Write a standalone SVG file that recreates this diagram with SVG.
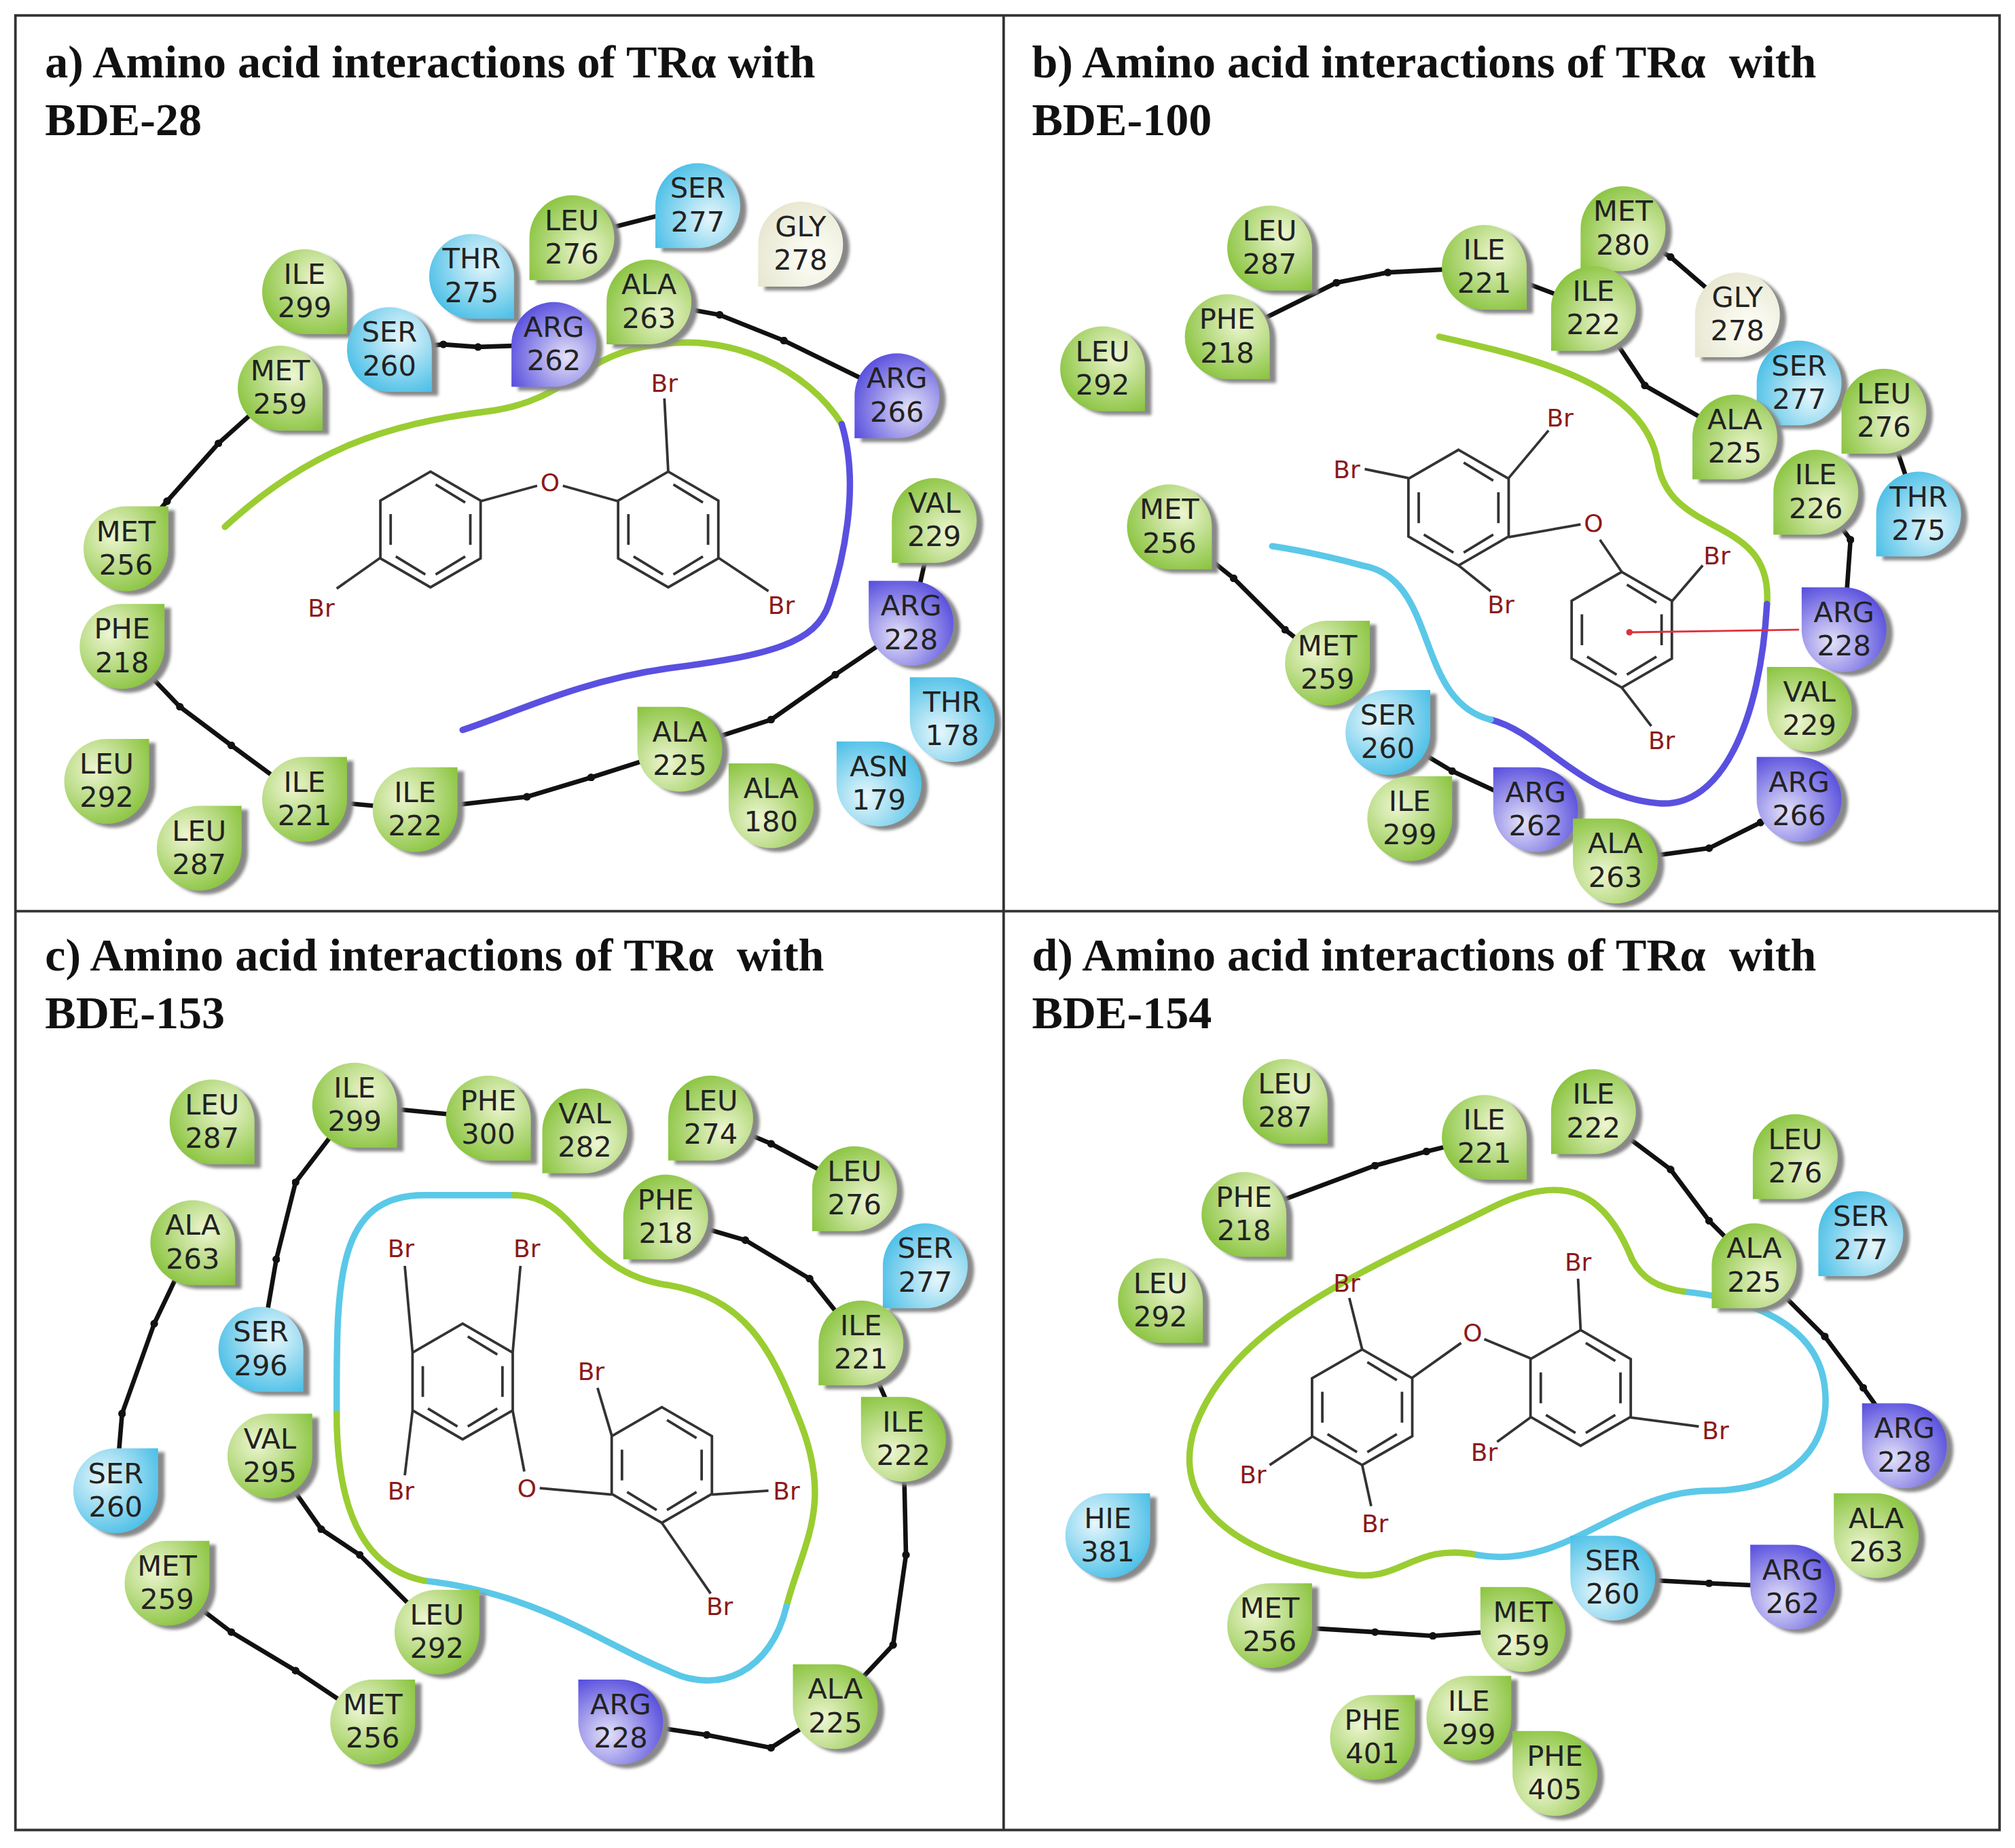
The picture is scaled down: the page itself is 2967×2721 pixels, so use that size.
<svg xmlns="http://www.w3.org/2000/svg" xmlns:xlink="http://www.w3.org/1999/xlink" width="2967" height="2721" viewBox="0 0 2967 2721">
<style>
.t{font-family:"Liberation Serif",serif;font-weight:bold;font-size:36px;fill:#111;white-space:pre}
.r text{font-family:"DejaVu Sans",sans-serif;font-size:22px;fill:#222;text-anchor:middle}
.g use{fill:url(#gG)}.b use{fill:url(#gB)}.p use{fill:url(#gP)}.w use{fill:url(#gW)}
.bb{fill:none;stroke:#111;stroke-width:3.5;marker-mid:url(#dot)}
.bd{fill:none;stroke:#333;stroke-width:2}
.at{font-family:"DejaVu Sans",sans-serif;font-size:19px;fill:#8b1a1a;text-anchor:middle}
.lg{fill:none;stroke:#9acd32;stroke-width:5;stroke-linecap:round}
.lb{fill:none;stroke:#5bc8e8;stroke-width:5;stroke-linecap:round}
.lp{fill:none;stroke:#5a50e0;stroke-width:5;stroke-linecap:round}
</style>
<defs>
<radialGradient id="gG" cx="35%" cy="35%" r="75%"><stop offset="0" stop-color="#eef6d2"/><stop offset="1" stop-color="#86c23a"/></radialGradient>
<radialGradient id="gB" cx="35%" cy="35%" r="75%"><stop offset="0" stop-color="#e8f7fc"/><stop offset="1" stop-color="#45bde6"/></radialGradient>
<radialGradient id="gP" cx="35%" cy="35%" r="75%"><stop offset="0" stop-color="#e4e2f8"/><stop offset="1" stop-color="#5248dc"/></radialGradient>
<radialGradient id="gW" cx="35%" cy="35%" r="75%"><stop offset="0" stop-color="#fefef8"/><stop offset="1" stop-color="#e6e6cf"/></radialGradient>
<filter id="sh" x="-30%" y="-30%" width="160%" height="160%"><feDropShadow dx="5" dy="3" stdDeviation="1" flood-color="#888"/></filter>
<path id="d" d="M0,-33 A33,33 0 1,0 33,0 L33,-33 Z"/>
<marker id="dot" viewBox="-3 -3 6 6" markerWidth="6" markerHeight="6" markerUnits="userSpaceOnUse"><circle r="3" fill="#111"/></marker>
<g id="ring" fill="none" stroke="#333" stroke-width="2"><polygon points="0,-45 39,-22.5 39,22.5 0,45 -39,22.5 -39,-22.5"/><path d="M4,-35 L27,-21 M31,-12 L31,12 M27,21 L4,35 M-4,35 L-27,21 M-31,12 L-31,-12"/></g>
</defs>
<rect width="2967" height="2721" fill="#fff"/>
<g transform="scale(1.8922)">
<g id="frame" fill="none" stroke="#333" stroke-width="2"><rect x="12" y="12" width="1544" height="1412"/><line x1="781" y1="12" x2="781" y2="1424"/><line x1="12" y1="709" x2="1556" y2="709"/></g>
<g id="titles"><text class="t" x="35" y="60">a) Amino acid interactions of TRα with</text><text class="t" x="35" y="105">BDE-28</text><text class="t" x="803" y="60">b) Amino acid interactions of TRα  with</text><text class="t" x="803" y="105">BDE-100</text><text class="t" x="35" y="755">c) Amino acid interactions of TRα  with</text><text class="t" x="35" y="800">BDE-153</text><text class="t" x="803" y="755">d) Amino acid interactions of TRα  with</text><text class="t" x="803" y="800">BDE-154</text></g>
<g id="ligand-curves">
<path class="lg" d="M175,410 C240,350 300,330 380,320 C440,312 450,280 500,270 C570,255 630,290 655,330"/>
<path class="lp" d="M655,330 C670,380 655,440 645,470 C635,500 600,510 520,520 C450,530 400,555 360,568"/>
<path class="lg" d="M1120,262 C1200,280 1280,300 1290,360 C1300,420 1380,400 1375,470"/>
<path class="lp" d="M1375,470 C1370,560 1340,630 1290,625 C1230,620 1200,570 1160,560"/>
<path class="lb" d="M1160,560 C1100,545 1120,450 1060,440 C1030,432 1010,428 990,425"/>
<path class="lb" d="M262,1100 C262,1000 260,930 330,930 L400,930"/>
<path class="lg" d="M400,930 C450,930 450,990 520,1000 C580,1010 600,1050 620,1100 C650,1170 625,1200 612,1250"/>
<path class="lb" d="M612,1250 C600,1300 560,1320 520,1300 C470,1280 420,1240 330,1230"/>
<path class="lg" d="M330,1230 C280,1220 262,1170 262,1100"/>
<path class="lg" d="M1270,980 C1250,930 1220,910 1160,940 C1060,990 960,1030 930,1110 C910,1170 960,1210 1050,1225 C1090,1232 1100,1200 1150,1210"/>
<path class="lb" d="M1150,1210 C1220,1222 1260,1160 1330,1160 C1400,1160 1425,1120 1420,1080 C1415,1030 1360,1010 1310,1005"/>
<path class="lg" d="M1310,1005 C1290,1002 1278,995 1270,980"/>
</g>
<g id="connectors">
<polyline class="bb" points="218,302 170,345 130,390 98,427"/>
<polyline class="bb" points="95,503 140,550 180,580 237,622"/>
<polyline class="bb" points="237,622 323,630"/>
<polyline class="bb" points="323,630 410,620 460,605 529,583 600,560 650,525 709,485"/>
<polyline class="bb" points="709,485 727,405"/>
<polyline class="bb" points="303,272 345,268 372,270 431,268"/>
<polyline class="bb" points="505,235 560,245 610,265 698,308"/>
<polyline class="bb" points="445,185 543,160"/>
<polyline class="bb" points="955,262 1040,220 1080,212 1155,208"/>
<polyline class="bb" points="1155,208 1240,240"/>
<polyline class="bb" points="1263,178 1300,200 1352,245"/>
<polyline class="bb" points="1240,240 1280,300 1350,340"/>
<polyline class="bb" points="1413,383 1440,420 1435,490"/>
<polyline class="bb" points="1466,320 1493,400"/>
<polyline class="bb" points="910,410 960,450 1000,490 1033,516"/>
<polyline class="bb" points="1080,570 1130,600 1195,630"/>
<polyline class="bb" points="1257,670 1330,660 1370,640 1400,622"/>
<polyline class="bb" points="276,860 230,920 215,980 203,1050"/>
<polyline class="bb" points="276,860 380,870"/>
<polyline class="bb" points="553,870 600,890 665,925"/>
<polyline class="bb" points="518,947 580,965 630,995 670,1045"/>
<polyline class="bb" points="670,1045 703,1120 705,1210 695,1280 650,1328 600,1360 550,1350 483,1340"/>
<polyline class="bb" points="150,967 120,1030 95,1100 90,1160"/>
<polyline class="bb" points="130,1232 180,1270 230,1300 290,1340"/>
<polyline class="bb" points="210,1133 250,1190 280,1210 340,1270"/>
<polyline class="bb" points="968,945 1070,907 1110,896 1155,885"/>
<polyline class="bb" points="1240,865 1300,910 1330,950 1365,985 1420,1040 1450,1080 1482,1125"/>
<polyline class="bb" points="1255,1228 1330,1232 1395,1235"/>
<polyline class="bb" points="988,1265 1070,1270 1115,1273 1185,1268"/>
</g>
<g id="mol-a"><use href="#ring" x="335" y="412"/><use href="#ring" x="520" y="412"/>
<path class="bd" d="M296,434 L262,458 M374,390 L418,378 M438,378 L481,390 M520,367 L517,310 M559,434 L598,460"/>
<text class="at" x="250" y="480">Br</text><text class="at" x="428" y="382">O</text><text class="at" x="517" y="305">Br</text><text class="at" x="608" y="478">Br</text></g>
<g id="mol-b"><use href="#ring" x="1135" y="395"/><use href="#ring" x="1262" y="490"/>
<path class="bd" d="M1096,372 L1062,365 M1174,372 L1205,335 M1135,440 L1160,460 M1174,418 L1230,408 M1262,445 L1245,420 M1301,468 L1325,440 M1262,535 L1285,565"/>
<line x1="1268" y1="492" x2="1400" y2="490" stroke="#e0303a" stroke-width="1.5"/><circle cx="1268" cy="492" r="2.5" fill="#e0303a"/>
<text class="at" x="1048" y="372">Br</text><text class="at" x="1214" y="332">Br</text><text class="at" x="1168" y="477">Br</text><text class="at" x="1240" y="414">O</text><text class="at" x="1336" y="439">Br</text><text class="at" x="1293" y="583">Br</text></g>
<g id="mol-c"><use href="#ring" x="360" y="1075"/><use href="#ring" x="515" y="1140"/>
<path class="bd" d="M321,1052 L315,985 M399,1052 L405,985 M321,1098 L315,1148 M399,1098 L408,1145 M420,1158 L476,1163 M476,1117 L465,1080 M554,1163 L598,1160 M515,1185 L553,1240"/>
<text class="at" x="312" y="978">Br</text><text class="at" x="410" y="978">Br</text><text class="at" x="312" y="1167">Br</text><text class="at" x="410" y="1165">O</text><text class="at" x="460" y="1074">Br</text><text class="at" x="612" y="1167">Br</text><text class="at" x="560" y="1257">Br</text></g>
<g id="mol-d"><use href="#ring" x="1060" y="1095"/><use href="#ring" x="1230" y="1080"/>
<path class="bd" d="M1060,1050 L1050,1010 M1021,1118 L988,1140 M1060,1140 L1067,1172 M1099,1072 L1137,1045 M1155,1042 L1191,1057 M1230,1035 L1228,995 M1269,1103 L1322,1110 M1191,1103 L1165,1122"/>
<text class="at" x="1048" y="1005">Br</text><text class="at" x="975" y="1154">Br</text><text class="at" x="1070" y="1192">Br</text><text class="at" x="1146" y="1044">O</text><text class="at" x="1228" y="989">Br</text><text class="at" x="1335" y="1120">Br</text><text class="at" x="1155" y="1137">Br</text></g>
<!-- panel a residues -->
<g id="a-ile299" class="r g" transform="translate(237,227)"><g filter="url(#sh)"><use href="#d" transform="rotate(90)"/></g><text y="-6">ILE</text><text y="20">299</text></g>
<g id="a-met259" class="r g" transform="translate(218,302)"><g filter="url(#sh)"><use href="#d" transform="rotate(90)"/></g><text y="-6">MET</text><text y="20">259</text></g>
<g id="a-ser260" class="r b" transform="translate(303,272)"><g filter="url(#sh)"><use href="#d" transform="rotate(90)"/></g><text y="-6">SER</text><text y="20">260</text></g>
<g id="a-thr275" class="r b" transform="translate(367,215)"><g filter="url(#sh)"><use href="#d" transform="rotate(90)"/></g><text y="-6">THR</text><text y="20">275</text></g>
<g id="a-arg262" class="r p" transform="translate(431,268)"><g filter="url(#sh)"><use href="#d" transform="rotate(180)"/></g><text y="-6">ARG</text><text y="20">262</text></g>
<g id="a-ala263" class="r g" transform="translate(505,235)"><g filter="url(#sh)"><use href="#d" transform="rotate(180)"/></g><text y="-6">ALA</text><text y="20">263</text></g>
<g id="a-leu276" class="r g" transform="translate(445,185)"><g filter="url(#sh)"><use href="#d" transform="rotate(180)"/></g><text y="-6">LEU</text><text y="20">276</text></g>
<g id="a-ser277" class="r b" transform="translate(543,160)"><g filter="url(#sh)"><use href="#d" transform="rotate(180)"/></g><text y="-6">SER</text><text y="20">277</text></g>
<g id="a-gly278" class="r w" transform="translate(623,190)"><g filter="url(#sh)"><use href="#d" transform="rotate(180)"/></g><text y="-6">GLY</text><text y="20">278</text></g>
<g id="a-arg266" class="r p" transform="translate(698,308)"><g filter="url(#sh)"><use href="#d" transform="rotate(180)"/></g><text y="-6">ARG</text><text y="20">266</text></g>
<g id="a-met256" class="r g" transform="translate(98,427)"><g filter="url(#sh)"><use href="#d" transform="rotate(0)"/></g><text y="-6">MET</text><text y="20">256</text></g>
<g id="a-phe218" class="r g" transform="translate(95,503)"><g filter="url(#sh)"><use href="#d" transform="rotate(0)"/></g><text y="-6">PHE</text><text y="20">218</text></g>
<g id="a-val229" class="r g" transform="translate(727,405)"><g filter="url(#sh)"><use href="#d" transform="rotate(180)"/></g><text y="-6">VAL</text><text y="20">229</text></g>
<g id="a-arg228" class="r p" transform="translate(709,485)"><g filter="url(#sh)"><use href="#d" transform="rotate(270)"/></g><text y="-6">ARG</text><text y="20">228</text></g>
<g id="a-thr178" class="r b" transform="translate(741,560)"><g filter="url(#sh)"><use href="#d" transform="rotate(270)"/></g><text y="-6">THR</text><text y="20">178</text></g>
<g id="a-asn179" class="r b" transform="translate(684,610)"><g filter="url(#sh)"><use href="#d" transform="rotate(270)"/></g><text y="-6">ASN</text><text y="20">179</text></g>
<g id="a-ala225" class="r g" transform="translate(529,583)"><g filter="url(#sh)"><use href="#d" transform="rotate(270)"/></g><text y="-6">ALA</text><text y="20">225</text></g>
<g id="a-ala180" class="r g" transform="translate(600,627)"><g filter="url(#sh)"><use href="#d" transform="rotate(270)"/></g><text y="-6">ALA</text><text y="20">180</text></g>
<g id="a-leu292" class="r g" transform="translate(83,608)"><g filter="url(#sh)"><use href="#d" transform="rotate(0)"/></g><text y="-6">LEU</text><text y="20">292</text></g>
<g id="a-ile221" class="r g" transform="translate(237,622)"><g filter="url(#sh)"><use href="#d" transform="rotate(0)"/></g><text y="-6">ILE</text><text y="20">221</text></g>
<g id="a-ile222" class="r g" transform="translate(323,630)"><g filter="url(#sh)"><use href="#d" transform="rotate(0)"/></g><text y="-6">ILE</text><text y="20">222</text></g>
<g id="a-leu287" class="r g" transform="translate(155,660)"><g filter="url(#sh)"><use href="#d" transform="rotate(0)"/></g><text y="-6">LEU</text><text y="20">287</text></g>
<!-- panel b residues -->
<g id="b-leu287" class="r g" transform="translate(988,193)"><g filter="url(#sh)"><use href="#d" transform="rotate(90)"/></g><text y="-6">LEU</text><text y="20">287</text></g>
<g id="b-phe218" class="r g" transform="translate(955,262)"><g filter="url(#sh)"><use href="#d" transform="rotate(90)"/></g><text y="-6">PHE</text><text y="20">218</text></g>
<g id="b-leu292" class="r g" transform="translate(858,287)"><g filter="url(#sh)"><use href="#d" transform="rotate(90)"/></g><text y="-6">LEU</text><text y="20">292</text></g>
<g id="b-ile221" class="r g" transform="translate(1155,208)"><g filter="url(#sh)"><use href="#d" transform="rotate(90)"/></g><text y="-6">ILE</text><text y="20">221</text></g>
<g id="b-met280" class="r g" transform="translate(1263,178)"><g filter="url(#sh)"><use href="#d" transform="rotate(180)"/></g><text y="-6">MET</text><text y="20">280</text></g>
<g id="b-ile222" class="r g" transform="translate(1240,240)"><g filter="url(#sh)"><use href="#d" transform="rotate(180)"/></g><text y="-6">ILE</text><text y="20">222</text></g>
<g id="b-gly278" class="r w" transform="translate(1352,245)"><g filter="url(#sh)"><use href="#d" transform="rotate(180)"/></g><text y="-6">GLY</text><text y="20">278</text></g>
<g id="b-ser277" class="r b" transform="translate(1400,298)"><g filter="url(#sh)"><use href="#d" transform="rotate(180)"/></g><text y="-6">SER</text><text y="20">277</text></g>
<g id="b-leu276" class="r g" transform="translate(1466,320)"><g filter="url(#sh)"><use href="#d" transform="rotate(180)"/></g><text y="-6">LEU</text><text y="20">276</text></g>
<g id="b-ala225" class="r g" transform="translate(1350,340)"><g filter="url(#sh)"><use href="#d" transform="rotate(180)"/></g><text y="-6">ALA</text><text y="20">225</text></g>
<g id="b-ile226" class="r g" transform="translate(1413,383)"><g filter="url(#sh)"><use href="#d" transform="rotate(180)"/></g><text y="-6">ILE</text><text y="20">226</text></g>
<g id="b-thr275" class="r b" transform="translate(1493,400)"><g filter="url(#sh)"><use href="#d" transform="rotate(180)"/></g><text y="-6">THR</text><text y="20">275</text></g>
<g id="b-met256" class="r g" transform="translate(910,410)"><g filter="url(#sh)"><use href="#d" transform="rotate(90)"/></g><text y="-6">MET</text><text y="20">256</text></g>
<g id="b-met259" class="r g" transform="translate(1033,516)"><g filter="url(#sh)"><use href="#d" transform="rotate(0)"/></g><text y="-6">MET</text><text y="20">259</text></g>
<g id="b-ser260" class="r b" transform="translate(1080,570)"><g filter="url(#sh)"><use href="#d" transform="rotate(0)"/></g><text y="-6">SER</text><text y="20">260</text></g>
<g id="b-arg228" class="r p" transform="translate(1435,490)"><g filter="url(#sh)"><use href="#d" transform="rotate(270)"/></g><text y="-6">ARG</text><text y="20">228</text></g>
<g id="b-val229" class="r g" transform="translate(1408,552)"><g filter="url(#sh)"><use href="#d" transform="rotate(270)"/></g><text y="-6">VAL</text><text y="20">229</text></g>
<g id="b-arg266" class="r p" transform="translate(1400,622)"><g filter="url(#sh)"><use href="#d" transform="rotate(270)"/></g><text y="-6">ARG</text><text y="20">266</text></g>
<g id="b-arg262" class="r p" transform="translate(1195,630)"><g filter="url(#sh)"><use href="#d" transform="rotate(270)"/></g><text y="-6">ARG</text><text y="20">262</text></g>
<g id="b-ile299" class="r g" transform="translate(1097,637)"><g filter="url(#sh)"><use href="#d" transform="rotate(0)"/></g><text y="-6">ILE</text><text y="20">299</text></g>
<g id="b-ala263" class="r g" transform="translate(1257,670)"><g filter="url(#sh)"><use href="#d" transform="rotate(270)"/></g><text y="-6">ALA</text><text y="20">263</text></g>
<!-- panel c residues -->
<g id="c-leu287" class="r g" transform="translate(165,873)"><g filter="url(#sh)"><use href="#d" transform="rotate(90)"/></g><text y="-6">LEU</text><text y="20">287</text></g>
<g id="c-ile299" class="r g" transform="translate(276,860)"><g filter="url(#sh)"><use href="#d" transform="rotate(90)"/></g><text y="-6">ILE</text><text y="20">299</text></g>
<g id="c-phe300" class="r g" transform="translate(380,870)"><g filter="url(#sh)"><use href="#d" transform="rotate(90)"/></g><text y="-6">PHE</text><text y="20">300</text></g>
<g id="c-val282" class="r g" transform="translate(455,880)"><g filter="url(#sh)"><use href="#d" transform="rotate(180)"/></g><text y="-6">VAL</text><text y="20">282</text></g>
<g id="c-leu274" class="r g" transform="translate(553,870)"><g filter="url(#sh)"><use href="#d" transform="rotate(180)"/></g><text y="-6">LEU</text><text y="20">274</text></g>
<g id="c-leu276" class="r g" transform="translate(665,925)"><g filter="url(#sh)"><use href="#d" transform="rotate(180)"/></g><text y="-6">LEU</text><text y="20">276</text></g>
<g id="c-phe218" class="r g" transform="translate(518,947)"><g filter="url(#sh)"><use href="#d" transform="rotate(180)"/></g><text y="-6">PHE</text><text y="20">218</text></g>
<g id="c-ala263" class="r g" transform="translate(150,967)"><g filter="url(#sh)"><use href="#d" transform="rotate(90)"/></g><text y="-6">ALA</text><text y="20">263</text></g>
<g id="c-ser277" class="r b" transform="translate(720,985)"><g filter="url(#sh)"><use href="#d" transform="rotate(180)"/></g><text y="-6">SER</text><text y="20">277</text></g>
<g id="c-ser296" class="r b" transform="translate(203,1050)"><g filter="url(#sh)"><use href="#d" transform="rotate(90)"/></g><text y="-6">SER</text><text y="20">296</text></g>
<g id="c-ile221" class="r g" transform="translate(670,1045)"><g filter="url(#sh)"><use href="#d" transform="rotate(180)"/></g><text y="-6">ILE</text><text y="20">221</text></g>
<g id="c-ile222" class="r g" transform="translate(703,1120)"><g filter="url(#sh)"><use href="#d" transform="rotate(270)"/></g><text y="-6">ILE</text><text y="20">222</text></g>
<g id="c-ser260" class="r b" transform="translate(90,1160)"><g filter="url(#sh)"><use href="#d" transform="rotate(0)"/></g><text y="-6">SER</text><text y="20">260</text></g>
<g id="c-val295" class="r g" transform="translate(210,1133)"><g filter="url(#sh)"><use href="#d" transform="rotate(0)"/></g><text y="-6">VAL</text><text y="20">295</text></g>
<g id="c-met259" class="r g" transform="translate(130,1232)"><g filter="url(#sh)"><use href="#d" transform="rotate(0)"/></g><text y="-6">MET</text><text y="20">259</text></g>
<g id="c-leu292" class="r g" transform="translate(340,1270)"><g filter="url(#sh)"><use href="#d" transform="rotate(0)"/></g><text y="-6">LEU</text><text y="20">292</text></g>
<g id="c-met256" class="r g" transform="translate(290,1340)"><g filter="url(#sh)"><use href="#d" transform="rotate(0)"/></g><text y="-6">MET</text><text y="20">256</text></g>
<g id="c-arg228" class="r p" transform="translate(483,1340)"><g filter="url(#sh)"><use href="#d" transform="rotate(270)"/></g><text y="-6">ARG</text><text y="20">228</text></g>
<g id="c-ala225" class="r g" transform="translate(650,1328)"><g filter="url(#sh)"><use href="#d" transform="rotate(270)"/></g><text y="-6">ALA</text><text y="20">225</text></g>
<!-- panel d residues -->
<g id="d-leu287" class="r g" transform="translate(1000,857)"><g filter="url(#sh)"><use href="#d" transform="rotate(90)"/></g><text y="-6">LEU</text><text y="20">287</text></g>
<g id="d-ile221" class="r g" transform="translate(1155,885)"><g filter="url(#sh)"><use href="#d" transform="rotate(90)"/></g><text y="-6">ILE</text><text y="20">221</text></g>
<g id="d-ile222" class="r g" transform="translate(1240,865)"><g filter="url(#sh)"><use href="#d" transform="rotate(180)"/></g><text y="-6">ILE</text><text y="20">222</text></g>
<g id="d-leu276" class="r g" transform="translate(1397,900)"><g filter="url(#sh)"><use href="#d" transform="rotate(180)"/></g><text y="-6">LEU</text><text y="20">276</text></g>
<g id="d-phe218" class="r g" transform="translate(968,945)"><g filter="url(#sh)"><use href="#d" transform="rotate(90)"/></g><text y="-6">PHE</text><text y="20">218</text></g>
<g id="d-ser277" class="r b" transform="translate(1448,960)"><g filter="url(#sh)"><use href="#d" transform="rotate(180)"/></g><text y="-6">SER</text><text y="20">277</text></g>
<g id="d-ala225" class="r g" transform="translate(1365,985)"><g filter="url(#sh)"><use href="#d" transform="rotate(180)"/></g><text y="-6">ALA</text><text y="20">225</text></g>
<g id="d-leu292" class="r g" transform="translate(903,1012)"><g filter="url(#sh)"><use href="#d" transform="rotate(90)"/></g><text y="-6">LEU</text><text y="20">292</text></g>
<g id="d-arg228" class="r p" transform="translate(1482,1125)"><g filter="url(#sh)"><use href="#d" transform="rotate(270)"/></g><text y="-6">ARG</text><text y="20">228</text></g>
<g id="d-ala263" class="r g" transform="translate(1460,1195)"><g filter="url(#sh)"><use href="#d" transform="rotate(270)"/></g><text y="-6">ALA</text><text y="20">263</text></g>
<g id="d-hie381" class="r b" transform="translate(862,1195)"><g filter="url(#sh)"><use href="#d" transform="rotate(0)"/></g><text y="-6">HIE</text><text y="20">381</text></g>
<g id="d-ser260" class="r b" transform="translate(1255,1228)"><g filter="url(#sh)"><use href="#d" transform="rotate(270)"/></g><text y="-6">SER</text><text y="20">260</text></g>
<g id="d-arg262" class="r p" transform="translate(1395,1235)"><g filter="url(#sh)"><use href="#d" transform="rotate(270)"/></g><text y="-6">ARG</text><text y="20">262</text></g>
<g id="d-met256" class="r g" transform="translate(988,1265)"><g filter="url(#sh)"><use href="#d" transform="rotate(0)"/></g><text y="-6">MET</text><text y="20">256</text></g>
<g id="d-met259" class="r g" transform="translate(1185,1268)"><g filter="url(#sh)"><use href="#d" transform="rotate(270)"/></g><text y="-6">MET</text><text y="20">259</text></g>
<g id="d-phe401" class="r g" transform="translate(1068,1352)"><g filter="url(#sh)"><use href="#d" transform="rotate(0)"/></g><text y="-6">PHE</text><text y="20">401</text></g>
<g id="d-ile299" class="r g" transform="translate(1143,1337)"><g filter="url(#sh)"><use href="#d" transform="rotate(0)"/></g><text y="-6">ILE</text><text y="20">299</text></g>
<g id="d-phe405" class="r g" transform="translate(1210,1380)"><g filter="url(#sh)"><use href="#d" transform="rotate(270)"/></g><text y="-6">PHE</text><text y="20">405</text></g>
</g>
</svg>
